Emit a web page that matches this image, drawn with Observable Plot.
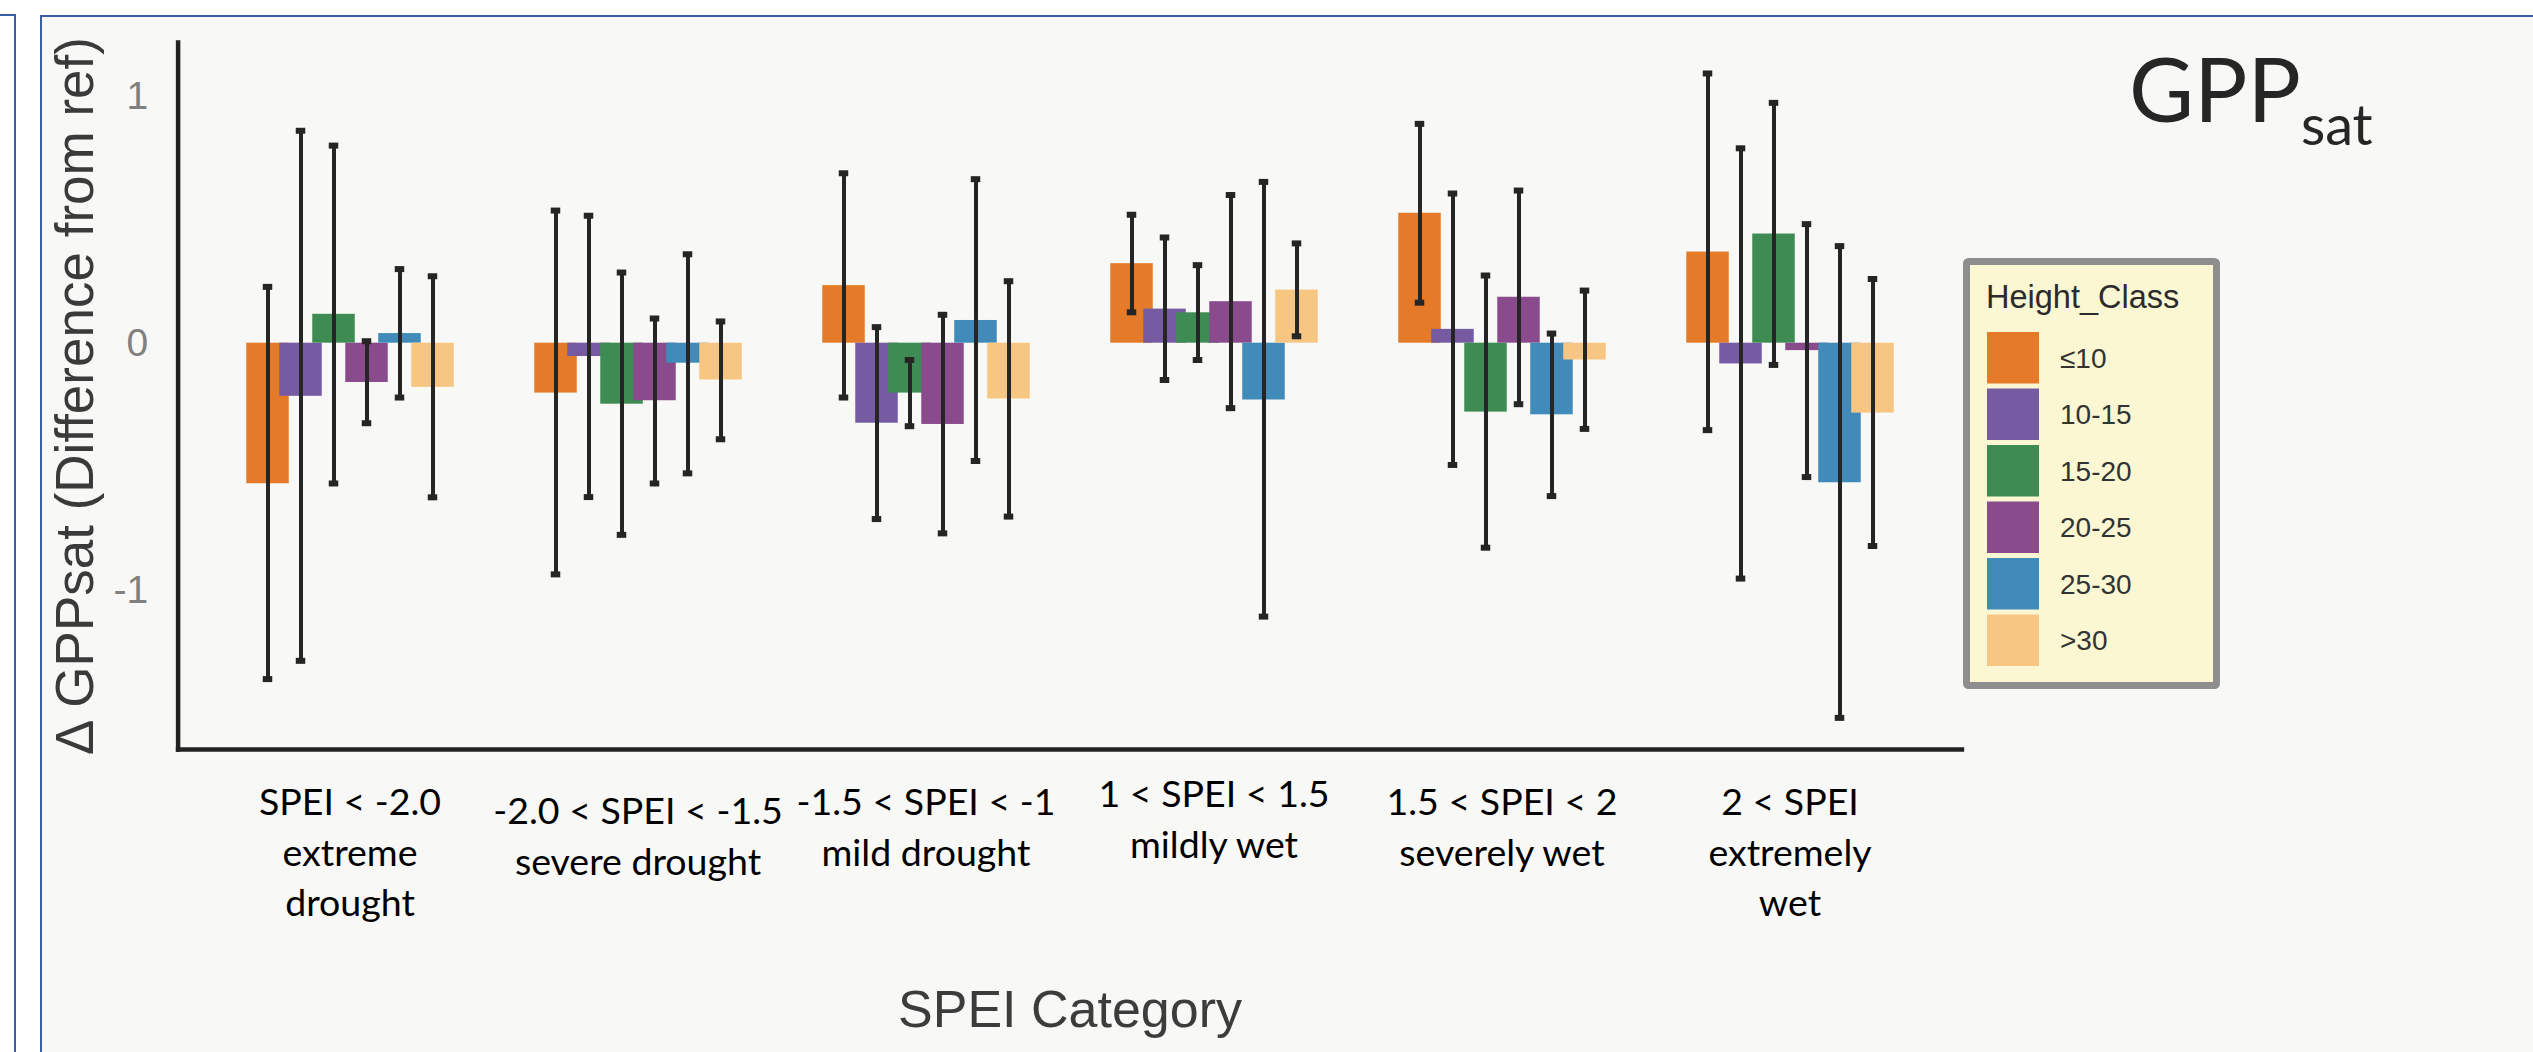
<!DOCTYPE html>
<html>
<head>
<meta charset="utf-8">
<script src="https://cdn.jsdelivr.net/npm/d3@7"></script>
<script src="https://cdn.jsdelivr.net/npm/@observablehq/plot@0.6"></script>
<style>
  html, body { margin: 0; padding: 0; background: #ffffff; }
  body { position: relative; width: 2533px; height: 1052px; overflow: hidden; }
  #leftpanel { position: absolute; left: -20px; top: 13.75px; width: 32.25px; height: 1100px;
               border: 2.5px solid #3b5ca6; background: #ffffff; }
  #panel { position: absolute; left: 39.75px; top: 14.75px; width: 2600px; height: 1100px;
           border: 2.5px solid #3b5ca6; background: #f8f9f6; }
  #chart, #title, #legend { position: absolute; left: 0; top: 0; }
</style>
</head>
<body>
<div id="leftpanel"></div>
<div id="panel"></div>
<div id="chart"></div>
<svg id="title" width="2533" height="1052"></svg>
<svg id="legend" width="2533" height="1052"></svg>
<script>
// ---------- data ----------
const categories = ["extreme drought", "severe drought", "mild drought", "mildly wet", "severely wet", "extremely wet"];
const categoryLabels = [
  "SPEI < -2.0\nextreme\ndrought",
  "-2.0 < SPEI < -1.5\nsevere drought",
  "-1.5 < SPEI < -1\nmild drought",
  "1 < SPEI < 1.5\nmildly wet",
  "1.5 < SPEI < 2\nseverely wet",
  "2 < SPEI\nextremely\nwet"
];
const heightClasses = ["≤10", "10-15", "15-20", "20-25", "25-30", ">30"];
const classColors = ["#e57b28", "#765ba3", "#3e8c53", "#8a4b8d", "#408bba", "#f8c683"];

// mean difference and error-bar limits, per height class, in category order
const mean_le10  = [-0.569, -0.202,  0.233,  0.322,  0.526,  0.369];
const lo_le10    = [-1.360, -0.936, -0.220,  0.125,  0.164, -0.352];
const hi_le10    = [ 0.228,  0.537,  0.688,  0.520,  0.888,  1.092];

const mean_10_15 = [-0.215, -0.054, -0.324,  0.138,  0.056, -0.084];
const lo_10_15   = [-1.286, -0.623, -0.712, -0.149, -0.493, -0.953];
const hi_10_15   = [ 0.860,  0.516,  0.065,  0.428,  0.606,  0.789];

const mean_15_20 = [ 0.117, -0.247, -0.202,  0.123, -0.279,  0.442];
const lo_15_20   = [-0.568, -0.776, -0.336, -0.068, -0.828, -0.088];
const hi_15_20   = [ 0.800,  0.286, -0.068,  0.316,  0.274,  0.973];

const mean_20_25 = [-0.159, -0.233, -0.329,  0.168,  0.186, -0.030];
const lo_20_25   = [-0.324, -0.568, -0.770, -0.263, -0.247, -0.542];
const hi_20_25   = [ 0.008,  0.100,  0.115,  0.600,  0.618,  0.482];

const mean_25_30 = [ 0.039, -0.081,  0.092, -0.230, -0.290, -0.565];
const lo_25_30   = [-0.220, -0.527, -0.477, -1.107, -0.619, -1.517];
const hi_25_30   = [ 0.300,  0.360,  0.664,  0.653,  0.039,  0.393];

const mean_gt30  = [-0.179, -0.149, -0.226,  0.215, -0.068, -0.283];
const lo_gt30    = [-0.624, -0.389, -0.702,  0.028, -0.347, -0.821];
const hi_gt30    = [ 0.271,  0.088,  0.251,  0.404,  0.213,  0.260];

const yTicks = [-1, 0, 1];
const yTickLabels = ["-1", "0", "1"];
const yTitle = "Δ GPPsat (Difference from ref)";
const xTitle = "SPEI Category";
const legendTitle = "Height_Class";
const titleMain = "GPP";
const titleSub = "sat";

// ---------- table ----------
const seriesByClass = [
  [mean_le10, lo_le10, hi_le10],
  [mean_10_15, lo_10_15, hi_10_15],
  [mean_15_20, lo_15_20, hi_15_20],
  [mean_20_25, lo_20_25, hi_20_25],
  [mean_25_30, lo_25_30, hi_25_30],
  [mean_gt30, lo_gt30, hi_gt30]
];
const rows = [];
categories.forEach((c, i) => {
  heightClasses.forEach((h, j) => {
    rows.push({cat: c, cls: h, mean: seriesByClass[j][0][i], lo: seriesByClass[j][1][i], hi: seriesByClass[j][2][i]});
  });
});
const labelOf = new Map(categories.map((c, i) => [c, categoryLabels[i]]));
const tickLabelOf = new Map(yTicks.map((v, i) => [v, yTickLabels[i]]));

const errColor = "#252525";
const sansFont = "'Liberation Sans', Arial, sans-serif";
const calFont = "Lato, 'Open Sans', sans-serif";
const outerPad = -71.4; // extends axis lines over the outer facet padding

// category label axis style (the pasted labels sit at slightly different heights)
const fxLabelStyle = {anchor: "bottom", tickSize: 0, tickFormat: d => labelOf.get(d),
  fontSize: 37.5, lineHeight: 1.35, fontFamily: calFont, fill: "#000000", label: null};
const lowerLabel = categories[1];
const higherLabel = categories[3];
const evenLabels = categories.filter(c => c !== lowerLabel && c !== higherLabel);

const chart = Plot.plot({
  width: 2533,
  height: 1052,
  marginLeft: 178,
  marginRight: 571,
  marginTop: 42,
  marginBottom: 303,
  style: {background: "transparent", overflow: "visible", fontFamily: sansFont},
  fx: {domain: categories, paddingInner: 0.302, paddingOuter: 0.248, label: null},
  x: {domain: heightClasses, padding: 0, axis: null},
  y: {domain: [-1.645, 1.2174]},
  color: {domain: heightClasses, range: classColors},
  marks: [
    Plot.barY(rows, {fx: "cat", x: "cls", y: "mean", fill: "cls", insetLeft: -4.75, insetRight: -4.75}),
    Plot.ruleX(rows, {fx: "cat", x: "cls", y1: "lo", y2: "hi", stroke: errColor, strokeWidth: 4}),
    Plot.tickY(rows, {fx: "cat", x: "cls", y: "lo", stroke: errColor, strokeWidth: 6, insetLeft: 11.75, insetRight: 11.75}),
    Plot.tickY(rows, {fx: "cat", x: "cls", y: "hi", stroke: errColor, strokeWidth: 6, insetLeft: 11.75, insetRight: 11.75}),
    Plot.frame({facet: "super", anchor: "left", stroke: "#222222", strokeWidth: 4.5, insetLeft: outerPad}),
    Plot.frame({facet: "super", anchor: "bottom", stroke: "#222222", strokeWidth: 4.5, insetLeft: outerPad, insetRight: outerPad}),
    Plot.axisY({ticks: yTicks, tickFormat: d => tickLabelOf.get(d), tickSize: 0, tickPadding: 101.4,
                fontSize: 39, fill: "#808080", label: null}),
    Plot.axisY({ticks: [], tickSize: 0, label: yTitle, labelAnchor: "center", labelArrow: "none",
                labelOffset: 194.4, fontSize: 53, fill: "#3a3a3a"}),
    Plot.axisFx({...fxLabelStyle, ticks: evenLabels, tickPadding: 29.6}),
    Plot.axisFx({...fxLabelStyle, ticks: [lowerLabel], tickPadding: 38.6}),
    Plot.axisFx({...fxLabelStyle, ticks: [higherLabel], tickPadding: 21.6}),
    Plot.text([xTitle], {facet: "super", text: d => d, frameAnchor: "bottom", lineAnchor: "bottom",
                         dy: 277, fontSize: 52, fill: "#3c3c3c", fontFamily: sansFont})
  ]
});
document.getElementById("chart").appendChild(chart);

// ---------- title ----------
const tsvg = d3.select("#title");
const t = tsvg.append("text")
  .attr("x", 2129).attr("y", 122)
  .attr("font-family", calFont).attr("font-size", 89).attr("fill", "#262626")
  .text(titleMain);
t.append("tspan").attr("dy", 23).attr("font-size", 56).text(titleSub);

// ---------- legend ----------
const lsvg = d3.select("#legend");
const lg = lsvg.append("g").attr("transform", "translate(1963,258)");
lg.append("rect").attr("x", 3.5).attr("y", 3.5).attr("width", 250).attr("height", 424)
  .attr("rx", 2).attr("fill", "#faf7d2").attr("stroke", "#8e8e8e").attr("stroke-width", 7);
lg.append("text").attr("x", 23).attr("y", 50)
  .attr("font-family", sansFont).attr("font-size", 32.5).attr("fill", "#2b2b2b").text(legendTitle);
heightClasses.forEach((h, i) => {
  lg.append("rect").attr("x", 24).attr("y", 74 + i * 56.5).attr("width", 52).attr("height", 51.5)
    .attr("fill", classColors[i]);
  lg.append("text").attr("x", 97).attr("y", 74 + i * 56.5 + 35.5)
    .attr("font-family", sansFont).attr("font-size", 28).attr("fill", "#333333").text(h);
});
</script>
</body>
</html>
